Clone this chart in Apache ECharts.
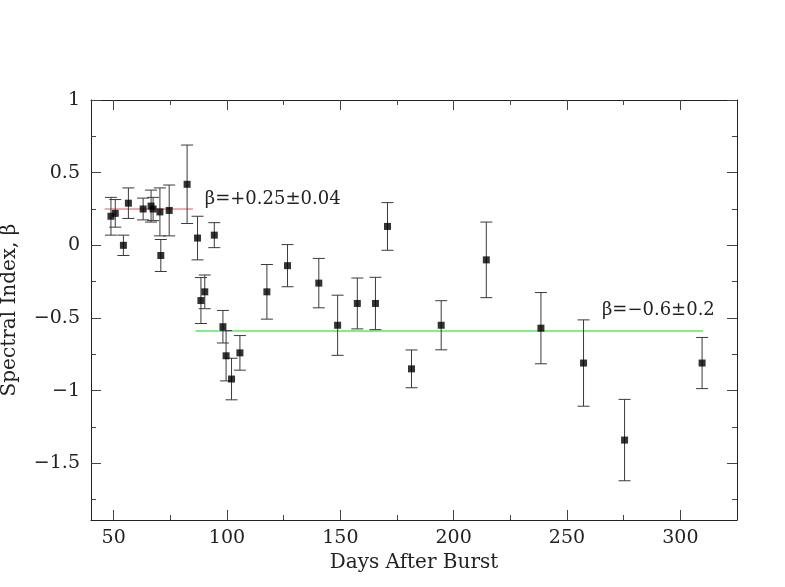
<!DOCTYPE html>
<html>
<head>
<meta charset="utf-8">
<script src="https://cdn.jsdelivr.net/npm/echarts@6/dist/echarts.min.js"></script>
<style>html,body{margin:0;padding:0;background:#fff}#c{width:785px;height:587px}</style>
</head>
<body>
<div id="c"></div>
<script>
// Days after burst
const days = [48.8, 50.7, 54.3, 56.5, 63.0, 66.5, 67.4, 70.4, 70.8, 74.5, 82.4, 87.0, 88.5, 90.2, 94.4, 98.2, 99.6, 102.0, 105.7, 117.6, 126.7, 140.5, 148.8, 157.5, 165.5, 170.8, 181.4, 194.5, 214.4, 238.5, 257.3, 275.4, 309.6];
// Spectral index beta
const beta = [0.20, 0.22, 0.00, 0.29, 0.25, 0.27, 0.25, 0.23, -0.07, 0.24, 0.42, 0.05, -0.38, -0.32, 0.07, -0.56, -0.76, -0.92, -0.74, -0.32, -0.14, -0.26, -0.55, -0.40, -0.40, 0.13, -0.85, -0.55, -0.10, -0.57, -0.81, -1.34, -0.81];
// 1-sigma errors
const betaErr = [0.13, 0.095, 0.07, 0.105, 0.075, 0.11, 0.08, 0.165, 0.11, 0.175, 0.27, 0.15, 0.158, 0.116, 0.086, 0.112, 0.173, 0.143, 0.119, 0.188, 0.145, 0.17, 0.207, 0.175, 0.18, 0.164, 0.13, 0.169, 0.26, 0.245, 0.297, 0.28, 0.176];
// Fits
const earlyFitX = [46, 85];
const earlyFitBeta = 0.25;
const lateFitX = [86, 310];
const lateFitBeta = -0.59;
// Annotations (anchor = left edge, vertical centre)
const annotText = ['β=+0.25±0.04', 'β=−0.6±0.2'];
const annotX = [90.2, 265.4];
const annotY = [0.318, -0.445];
// Ticks
const xMajorTicks = [50, 100, 150, 200, 250, 300];
const xMinorTicks = [75, 125, 175, 225, 275];
const yMajorTicks = [1, 0.5, 0, -0.5, -1, -1.5];
const yMinorTicks = [0.75, 0.25, -0.25, -0.75, -1.25, -1.75];

const FONT = 'DejaVu Serif';
const AX = '#222';
const fmtNum = v => String(v).replace('-', '\u2212');

function xAx(pos, custom, len, showLabel, showLine) {
  return {
    type: 'value', position: pos, min: 40, max: 325,
    axisLine: { show: showLine, onZero: false, lineStyle: { color: AX, width: 1 } },
    axisTick: { show: true, inside: true, length: len, customValues: custom, lineStyle: { color: '#444', width: 1 } },
    axisLabel: { show: showLabel, customValues: custom, margin: 9, color: '#222', fontFamily: FONT, fontSize: 19, formatter: fmtNum },
    splitLine: { show: false }
  };
}
function yAx(pos, custom, len, showLabel, showLine) {
  return {
    type: 'value', position: pos, min: -1.89, max: 1,
    axisLine: { show: showLine, onZero: false, lineStyle: { color: AX, width: 1 } },
    axisTick: { show: true, inside: true, length: len, customValues: custom, lineStyle: { color: '#444', width: 1 } },
    axisLabel: { show: showLabel, customValues: custom, margin: 11, color: '#222', fontFamily: FONT, fontSize: 19, formatter: fmtNum },
    splitLine: { show: false }
  };
}

const xAxes = [
  xAx('bottom', xMajorTicks, 10, true, true),
  xAx('bottom', xMinorTicks, 5, false, false),
  xAx('top', xMajorTicks, 10, false, true),
  xAx('top', xMinorTicks, 5, false, false)
];
xAxes[0].name = 'Days After Burst';
xAxes[0].nameLocation = 'middle';
xAxes[0].nameGap = 33;
xAxes[0].nameTextStyle = { fontFamily: FONT, fontSize: 20, color: '#222' };

const yAxes = [
  yAx('left', yMajorTicks, 10, true, true),
  yAx('left', yMinorTicks, 5, false, false),
  yAx('right', yMajorTicks, 10, false, true),
  yAx('right', yMinorTicks, 5, false, false)
];
yAxes[0].name = 'Spectral Index, β';
yAxes[0].nameLocation = 'middle';
yAxes[0].nameGap = 71;
yAxes[0].nameTextStyle = { fontFamily: FONT, fontSize: 20, color: '#222' };

const points = days.map((d, i) => [d, beta[i], betaErr[i]]);

const chart = echarts.init(document.getElementById('c'), null, { renderer: 'canvas' });
chart.setOption({
  animation: false,
  backgroundColor: '#fff',
  grid: { left: 91, right: 48, top: 100, bottom: 67, containLabel: false, outerBoundsMode: 'none' },
  xAxis: xAxes,
  yAxis: yAxes,
  series: [
    {
      type: 'line', name: 'early fit',
      data: earlyFitX.map(x => [x, earlyFitBeta]),
      symbol: 'none', lineStyle: { color: '#e85a5a', width: 1.2 }, z: 1
    },
    {
      type: 'line', name: 'late fit',
      data: lateFitX.map(x => [x, lateFitBeta]),
      symbol: 'none', lineStyle: { color: '#86ee86', width: 2 }, z: 1
    },
    {
      type: 'custom', name: 'errors',
      data: points,
      encode: { x: 0, y: [1, 2] },
      z: 2,
      renderItem: function (params, api) {
        const x = api.value(0), y = api.value(1), e = api.value(2);
        const top = api.coord([x, y + e]);
        const bot = api.coord([x, y - e]);
        const hw = 6;
        const style = { stroke: '#3a3a3a', lineWidth: 1 };
        return {
          type: 'group',
          children: [
            { type: 'line', shape: { x1: top[0], y1: top[1], x2: bot[0], y2: bot[1] }, style },
            { type: 'line', shape: { x1: top[0] - hw, y1: top[1], x2: top[0] + hw, y2: top[1] }, style },
            { type: 'line', shape: { x1: bot[0] - hw, y1: bot[1], x2: bot[0] + hw, y2: bot[1] }, style }
          ]
        };
      }
    },
    {
      type: 'scatter', name: 'beta',
      data: days.map((d, i) => [d, beta[i]]),
      symbol: 'rect', symbolSize: 7,
      itemStyle: { color: '#000' }, z: 3
    },
    {
      type: 'custom', name: 'annotations',
      data: annotX.map((x, i) => [x, annotY[i], i]),
      encode: { x: 0, y: 1 },
      z: 4, silent: true,
      renderItem: function (params, api) {
        const p = api.coord([api.value(0), api.value(1)]);
        return {
          type: 'text',
          x: p[0], y: p[1],
          style: {
            text: annotText[api.value(2)],
            fill: '#222', font: '18px "DejaVu Serif"',
            textAlign: 'left', textVerticalAlign: 'middle'
          }
        };
      }
    }
  ]
});
</script>
</body>
</html>
